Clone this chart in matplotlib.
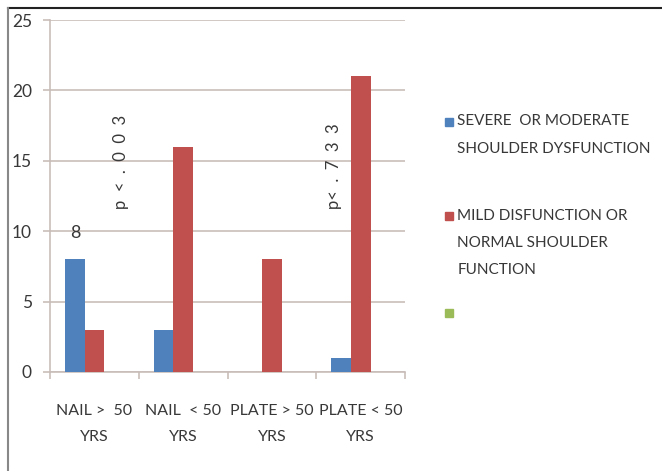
import matplotlib.pyplot as plt
import matplotlib.patches as mpatches
import numpy as np

plt.rcParams['font.family'] = ['Lato', 'DejaVu Sans']

categories = ['NAIL >  50\nYRS', 'NAIL  < 50\nYRS', 'PLATE > 50\nYRS', 'PLATE < 50\nYRS']
severe = [8, 3, 0, 1]
mild = [3, 16, 8, 21]
third = [0, 0, 0, 0]
series_labels = ['SEVERE  OR MODERATE\nSHOULDER DYSFUNCTION',
                 'MILD DISFUNCTION OR\nNORMAL SHOULDER\nFUNCTION',
                 '']
colors = ['#4F81BD', '#C0504D', '#9BBB59']
p_labels = ['p  <  .  0  0  3', 'p<  .  7  3  3']

text_col = '#383838'
grid_col = '#C9BDB9'

fig = plt.figure(figsize=(6.62, 4.71), dpi=100)
ax = fig.add_axes([0.0755, 0.2102, 0.5365, 0.7473])

x = np.arange(len(categories))
w = 0.22
for i, vals in enumerate([severe, mild, third]):
    ax.bar(x + (i - 1) * w, vals, width=w, color=colors[i], zorder=3)

ax.set_xlim(-0.5, len(categories) - 0.5)
ax.set_ylim(0, 25)
ax.set_yticks(range(0, 26, 5))
ax.yaxis.grid(True, color=grid_col, linewidth=1.2, zorder=0)
ax.set_xticks(x)
ax.set_xticklabels(categories, fontsize=11.5, color=text_col, linespacing=2.1)
ax.set_xticks(np.arange(-0.5, len(categories)), minor=True)
ax.tick_params(axis='x', which='major', length=0, pad=23)
ax.tick_params(axis='x', which='minor', length=5, color=grid_col, width=1.2)
ax.tick_params(axis='y', length=5, color=grid_col, width=1.2, labelsize=12.5,
               labelcolor=text_col, pad=8)
for s in ['top', 'right']:
    ax.spines[s].set_visible(False)
for s in ['left', 'bottom']:
    ax.spines[s].set_color(grid_col)
    ax.spines[s].set_linewidth(1.2)

# value label and p-values
ax.text(x[0] - w, severe[0] + 1.3, '8', ha='center', va='bottom',
        fontsize=13, color=text_col)
ax.text(x[0] + 0.3, 14.9, p_labels[0], rotation=90, ha='center', va='center',
        fontsize=12, color=text_col)
ax.text(x[3] - 0.3, 14.6, p_labels[1], rotation=90, ha='center', va='center',
        fontsize=12, color=text_col)

# legend
leg_y = [0.743, 0.543, 0.337]
for lab, c, yy in zip(series_labels, colors, leg_y):
    fig.add_artist(mpatches.Rectangle((0.6715, yy - 0.011), 0.0125, 0.0175,
                                      color=c, transform=fig.transFigure))
    fig.text(0.691, yy + 0.014, lab, ha='left', va='top', fontsize=11,
             color=text_col, linespacing=2.2)

# frame
fig.add_artist(plt.Line2D([0.012, 1], [0.983, 0.983], color='#222222',
                          linewidth=1.5, transform=fig.transFigure))
fig.add_artist(plt.Line2D([0.012, 0.012], [0, 0.983], color='#888888',
                          linewidth=1.5, transform=fig.transFigure))

fig.savefig('out.png', dpi=100)
